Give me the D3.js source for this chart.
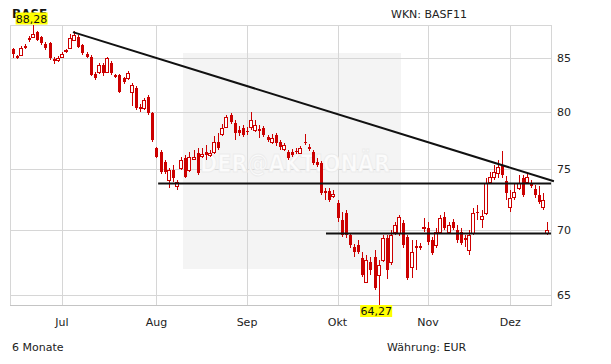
<!DOCTYPE html>
<html><head><meta charset="utf-8">
<script src="https://cdn.jsdelivr.net/npm/d3@7"></script>
<style>html,body{margin:0;padding:0;background:#fff;}svg{display:block;font-family:"DejaVu Sans",Verdana,sans-serif;}</style>
</head><body>
<svg id="c" width="611" height="364"></svg>
<script>
const title = "BASF";
const wkn = "WKN: BASF11";
const periodLabel = "6 Monate";
const currencyLabel = "Währung: EUR";
const watermark = "DER@AKTIONÄR";
const monthLabels = ["Jul","Aug","Sep","Okt","Nov","Dez"];
const monthStarts = [12,35,57,79,101,121];
const yTicks = [65,70,75,80,85];

const open = [85.88,85.19,85.29,86.16,86.95,87.04,87.54,87.04,86.36,86.46, 84.91,84.81,85.10,85.68,85.97,86.75,87.04,86.26,85.39,85.10, 83.48,83.67,84.33,83.67,84.52,83.38,83.38,83.10,83.10,81.80, 82.16,80.42,80.33,81.34,79.88,76.77,76.42,75.56,74.04,74.88, 73.54,75.05,75.90,74.88,75.82,76.33,76.07,76.42,76.16,76.42, 77.29,77.99,78.62,79.70,78.98,78.35,78.53,78.26,78.62,78.35, 78.44,78.53,77.73,77.29,77.90,77.29,76.68,76.42,76.42,76.51, 76.33,77.29,76.86,76.42,75.56,75.48,73.12,73.12,72.71,72.13, 70.76,71.32,69.57,68.63,68.79,67.78,65.96,67.48,67.86,66.49, 67.63,69.33,67.48,69.81,69.73,70.52,69.41,67.09,68.71,68.71, 70.13,70.13,69.18,68.79,69.81,71.00,69.81,70.60,69.96,69.81, 69.33,68.40,69.73,71.41,70.84,71.32,73.87,74.29,74.63,75.22, 73.96,71.81,72.62,73.37,74.21,73.87,73.70,73.29,72.79,71.81, 69.73];
const high = [85.97,85.29,86.16,86.36,87.14,88.28,87.64,87.14,86.55,86.55, 85.10,85.19,85.58,85.88,87.34,87.64,87.24,86.36,85.58,85.29, 83.67,84.52,84.52,85.10,84.71,83.48,83.48,83.19,83.76,82.63, 82.35,80.69,81.24,81.52,79.97,76.86,76.60,75.73,75.05,75.31, 74.04,75.99,76.16,76.42,76.60,76.77,76.77,77.03,76.60,77.81, 78.08,78.89,79.70,79.88,79.24,78.71,78.80,78.62,79.97,79.24, 78.80,78.71,77.90,77.99,78.08,77.47,77.21,76.60,76.68,76.77, 76.94,77.99,77.12,76.60,75.90,75.65,73.37,73.37,73.20,72.38, 71.41,71.57,69.73,68.87,69.18,68.24,68.01,67.86,68.40,67.63, 69.57,69.57,69.96,70.60,71.16,70.76,69.57,69.18,69.18,68.94, 70.92,70.60,69.41,70.13,71.16,71.41,70.60,70.84,70.36,70.13, 69.57,69.96,71.73,71.97,71.57,74.21,74.71,75.31,75.73,76.51, 74.38,73.20,73.79,74.46,74.46,74.63,74.04,73.62,73.54,72.95, 70.60];
const low = [85.00,84.91,85.19,85.88,86.55,86.95,86.65,86.26,85.78,84.81, 84.43,84.62,85.00,85.48,85.88,86.65,85.97,85.29,85.00,83.29, 82.91,83.48,83.29,83.57,83.38,83.10,81.70,82.53,82.91,80.51, 80.15,79.97,80.15,79.70,77.29,75.90,74.54,74.54,73.37,73.87, 73.20,74.88,74.21,74.71,75.73,74.46,75.90,75.73,75.99,76.25, 76.60,77.81,78.53,78.89,77.47,77.81,77.73,77.90,78.35,78.17, 77.64,77.73,77.29,77.12,76.94,76.60,76.51,75.73,75.99,76.25, 76.25,77.03,76.51,75.31,75.14,72.79,72.38,72.22,72.54,70.60, 69.41,69.33,68.56,67.86,68.09,66.34,65.89,66.49,65.37,64.27, 67.48,66.19,67.24,69.57,69.49,68.56,66.11,66.26,66.86,68.40, 69.81,68.79,68.01,68.56,69.65,69.96,69.65,69.96,68.94,68.79, 68.63,68.01,69.57,70.76,70.13,71.16,73.70,74.04,74.21,74.21, 72.38,71.41,72.38,73.20,72.62,73.70,73.37,72.54,72.05,71.57, 69.57];
const close = [85.39,85.00,85.97,85.97,86.75,87.34,86.75,86.46,85.97,85.00, 84.71,85.00,85.39,85.78,86.95,87.24,86.07,85.48,85.10,83.38, 83.10,84.33,83.57,85.00,83.57,83.19,81.80,82.72,83.57,82.44, 80.33,80.24,81.06,79.88,77.47,75.99,74.71,74.71,74.88,74.21, 73.87,75.73,74.29,75.99,75.99,74.63,76.25,76.16,76.33,77.29, 76.77,78.53,79.52,79.06,78.08,78.08,77.90,78.17,79.24,78.80, 78.26,77.90,77.47,77.64,77.21,76.86,77.03,75.90,76.16,76.42, 76.77,77.21,76.68,75.48,75.31,72.95,72.95,72.38,72.87,70.92, 69.57,69.57,68.79,68.25,68.25,66.49,67.63,66.86,65.52,67.24, 69.33,66.86,69.57,70.36,71.00,68.79,66.26,68.24,68.56,68.56, 70.21,69.02,68.17,69.81,70.92,70.13,70.36,70.13,69.18,68.94, 69.18,69.57,71.32,71.32,71.08,73.79,74.29,74.71,75.14,74.46, 72.95,72.54,73.04,73.79,72.79,74.29,73.54,72.79,72.22,72.38, 69.96];

// drawn chart lines: [startIndex, startValue, endIndex, endValue]
const trendLine = [14.7, 87.57, 131.6, 73.95];
const support1 = [35.4, 73.76, 130.9, 73.76];
const support2 = [76.2, 69.70, 130.9, 69.70];

const candles = open.map((o,i)=>({i, o, h:high[i], l:low[i], c:close[i]}));

const svg = d3.select("#c");
const L = 10, R = 551, T = 25, B = 305;
const x = d3.scaleLinear().domain([0,121]).range([12.5,510.3]);
const yMin = d3.min(low), yMax = d3.max(high);
const y = d3.scaleLog().domain([yMin, yMax]).range([B, T]);
const RED = "#cc0000";
const GRID = "#d6d6d6";

// watermark box
svg.append("rect").attr("x",183).attr("y",53).attr("width",218).attr("height",216).attr("fill","#f4f4f4");

// grid
const g = svg.append("g").attr("shape-rendering","crispEdges");
g.selectAll(".hg").data(yTicks).join("line")
  .attr("x1",L).attr("x2",R).attr("y1",d=>Math.round(y(d))+0.5).attr("y2",d=>Math.round(y(d))+0.5)
  .attr("stroke",GRID);
g.selectAll(".vg").data(monthStarts).join("line")
  .attr("x1",d=>Math.round(x(d))+0.5).attr("x2",d=>Math.round(x(d))+0.5).attr("y1",T).attr("y2",B)
  .attr("stroke",GRID);
g.append("rect").attr("x",L+0.5).attr("y",T+0.5).attr("width",R-L).attr("height",B-T)
  .attr("fill","none").attr("stroke",GRID);
g.append("line").attr("x1",L).attr("x2",R+1).attr("y1",B+0.5).attr("y2",B+0.5).attr("stroke","#c4c4c4");

// watermark text
svg.append("text").attr("x",295).attr("y",172).attr("text-anchor","middle")
  .attr("font-size",25).attr("font-weight","bold").attr("textLength",190).attr("lengthAdjust","spacingAndGlyphs")
  .attr("fill","#fbfbfb").attr("stroke","#ececec").attr("stroke-width",1).text(watermark);

// candles
const cg = svg.append("g").attr("shape-rendering","crispEdges");
cg.selectAll(".wick").data(candles).join("line")
  .attr("x1",d=>Math.round(x(d.i))+0.5).attr("x2",d=>Math.round(x(d.i))+0.5)
  .attr("y1",d=>y(d.h)).attr("y2",d=>y(d.l)).attr("stroke",RED).attr("stroke-width",1);
cg.selectAll(".body").data(candles).join("rect")
  .attr("x",d=>d.c>=d.o ? Math.round(x(d.i))-1.5 : Math.round(x(d.i))-1)
  .attr("y",d=>Math.round(y(Math.max(d.o,d.c)))+(d.c>=d.o?0.5:0))
  .attr("width",d=>d.c>=d.o?3:3)
  .attr("height",d=>Math.max(1, Math.round(y(Math.min(d.o,d.c))-y(Math.max(d.o,d.c)))))
  .attr("fill",d=>d.c>=d.o?"#fff":RED)
  .attr("stroke",d=>d.c>=d.o?RED:"none");

// chart lines
const lines = [trendLine, support1, support2];
svg.selectAll(".tl").data(lines).join("line")
  .attr("x1",d=>x(d[0])).attr("y1",d=>y(d[1])).attr("x2",d=>x(d[2])).attr("y2",d=>y(d[3]))
  .attr("stroke","#111").attr("stroke-width",2);

// y labels
svg.selectAll(".yl").data(yTicks).join("text")
  .attr("x",557).attr("y",d=>y(d)).attr("dy","0.36em").attr("font-size",11).attr("fill","#222").text(d=>d);
// month labels
svg.selectAll(".ml").data(monthLabels).join("text")
  .attr("x",(d,k)=>x(monthStarts[k])).attr("y",326).attr("text-anchor","middle")
  .attr("font-size",11).attr("fill","#222").text(d=>d);

// header / footer
svg.append("text").attr("x",12).attr("y",18).attr("font-size",12).attr("font-weight","bold").attr("fill","#111").text(title);
svg.append("text").attr("x",391).attr("y",18).attr("font-size",11).attr("fill","#222").text(wkn);
svg.append("text").attr("x",12).attr("y",351).attr("font-size",11).attr("fill","#222").text(periodLabel);
svg.append("text").attr("x",387).attr("y",351).attr("font-size",11).attr("fill","#222").text(currencyLabel);

// min / max markers
const fmt = v => d3.format(".2f")(v).replace(".",",");
const iMax = high.indexOf(yMax), iMin = low.indexOf(yMin);
function marker(cx, top, val){
  const w = 32, h = 12;
  svg.append("rect").attr("x",cx-w/2).attr("y",top).attr("width",w).attr("height",h).attr("fill","#ffff00");
  svg.append("text").attr("x",cx).attr("y",top+h-2).attr("text-anchor","middle").attr("font-size",11).attr("fill","#111").text(fmt(val));
}
marker(x(iMax)-1.5, y(yMax)-12.5, yMax);
marker(x(iMin)-2.5, y(yMin), yMin);
</script>
</body></html>
